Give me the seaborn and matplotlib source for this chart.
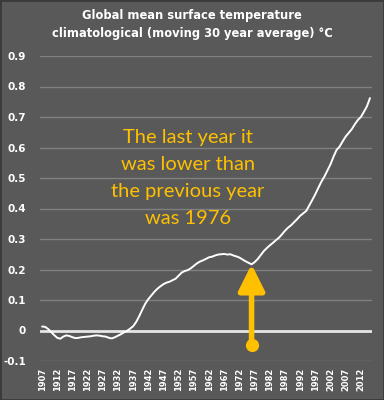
import matplotlib
matplotlib.use("Agg")
import matplotlib.pyplot as plt
import seaborn as sns
import numpy as np
import pandas as pd

years = list(range(1907, 2016))
temps = [
    0.013, 0.012, 0.005, -0.005, -0.015, -0.024, -0.027, -0.020, -0.016, -0.018,   # 1907-1916
    -0.022, -0.025, -0.024, -0.022, -0.021, -0.020, -0.019, -0.017, -0.016, -0.017,  # 1917-1926
    -0.019, -0.020, -0.024, -0.026, -0.022, -0.017, -0.012, -0.006, -0.001, 0.006,   # 1927-1936
    0.014, 0.028, 0.047, 0.068, 0.088, 0.103, 0.115, 0.127, 0.137, 0.145,           # 1937-1946
    0.152, 0.157, 0.160, 0.165, 0.170, 0.180, 0.190, 0.195, 0.198, 0.204,           # 1947-1956
    0.212, 0.220, 0.226, 0.230, 0.235, 0.240, 0.242, 0.246, 0.249, 0.250,           # 1957-1966
    0.251, 0.249, 0.250, 0.246, 0.243, 0.239, 0.233, 0.227, 0.222, 0.217,           # 1967-1976
    0.224, 0.234, 0.247, 0.260, 0.270, 0.279, 0.287, 0.296, 0.304, 0.315,           # 1977-1986
    0.327, 0.337, 0.345, 0.355, 0.365, 0.376, 0.384, 0.392, 0.410, 0.428,           # 1987-1996
    0.447, 0.468, 0.488, 0.505, 0.525, 0.545, 0.570, 0.592, 0.603, 0.620,           # 1997-2006
    0.636, 0.648, 0.660, 0.676, 0.690, 0.700, 0.717, 0.735, 0.762,                  # 2007-2015
]
tick_years = list(range(1907, 2013, 5))
y_ticks = [-0.1, 0, 0.1, 0.2, 0.3, 0.4, 0.5, 0.6, 0.7, 0.8, 0.9]
y_tick_labels = ["-0.1", "0", "0.1", "0.2", "0.3", "0.4", "0.5", "0.6", "0.7", "0.8", "0.9"]
title = "Global mean surface temperature\nclimatological (moving 30 year average) °C"
note = "The last year it\nwas lower than\nthe previous year\nwas 1976"
arrow_year = 1976
arrow_base = -0.047
arrow_tip = 0.217

BG = "#595959"
YEL = "#FFC000"

df = pd.DataFrame({"year": years, "temp": temps})

sns.set_style("dark")
plt.rcParams["font.family"] = ["DejaVu Sans"]

fig = plt.figure(figsize=(3.84, 4.0), dpi=100, facecolor=BG)
fig.patches.append(plt.Rectangle((0, 0), 1, 1, transform=fig.transFigure,
                                 fill=False, edgecolor="#3a3a3a", lw=2, zorder=10))
ax = fig.add_axes([0.104, 0.0975, 0.865, 0.7625])
ax.set_facecolor(BG)

for v in y_ticks:
    if v != 0:
        ax.axhline(v, color="#808080", lw=1.0, zorder=1)
ax.axhline(0, color="#e6e6e6", lw=2.0, zorder=2)

sns.lineplot(data=df, x="year", y="temp", color="white", lw=1.4, ax=ax, zorder=3)

ax.annotate("", xy=(arrow_year, arrow_tip), xytext=(arrow_year, arrow_base),
            arrowprops=dict(arrowstyle="-|>,head_length=1.6,head_width=0.8",
                            color=YEL, lw=4, shrinkA=0, shrinkB=0),
            zorder=5)
ax.scatter([arrow_year], [arrow_base], s=90, color=YEL, zorder=6, linewidths=0)

ax.set_xlim(1906.3, 2015.7)
ax.set_ylim(-0.1, 0.9)
ax.set_xticks(tick_years)
ax.set_xticklabels([str(y) for y in tick_years], rotation=90, color="white",
                   fontsize=6, fontweight="bold")
ax.set_yticks(y_ticks)
ax.set_yticklabels(y_tick_labels, color="white", fontsize=7.5, fontweight="bold")
ax.tick_params(axis="both", length=0)
ax.tick_params(axis="y", pad=10)
ax.tick_params(axis="x", pad=5)
ax.set_xlabel("")
ax.set_ylabel("")
ax.grid(False)
for s in ax.spines.values():
    s.set_visible(False)

ax.text(1955, 0.50, note, color=YEL, fontsize=14.5, family="Lato",
        ha="center", va="center", linespacing=1.72, zorder=4)

fig.text(0.5, 0.939, title, color="white", fontsize=8.3, fontweight="bold",
         ha="center", va="center", linespacing=1.5)

fig.savefig("out.png", dpi=100, facecolor=BG)
